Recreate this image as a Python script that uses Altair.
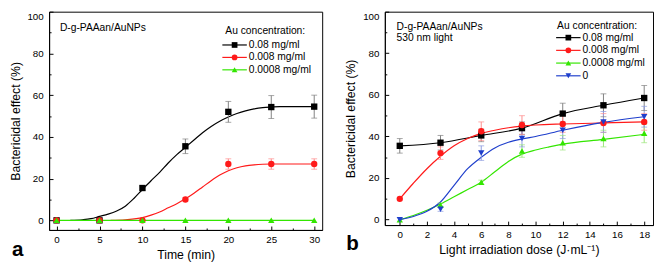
import altair as alt
import pandas as pd

FONT = "Liberation Sans"

SERIES = ["0.08 mg/ml", "0.008 mg/ml", "0.0008 mg/ml", "0"]
COLORS = ["#000000", "#ff1a1a", "#33e600", "#1f3fcc"]
ERR_COLORS = ["#808080", "#ff8c8c", "#9be67a", "#8c9be0"]
SHAPES = ["square", "circle", "triangle-up", "triangle-down"]

# ---------------- Panel a : time course ----------------
a_time = [0, 5, 10, 15, 20, 25, 30]
a_val = [
    [0, 0, 15.5, 35.5, 52.0, 54.3, 54.5],
    [0, 0, 0, 10.0, 27.0, 27.0, 27.0],
    [0, 0, 0, 0, 0, 0, 0],
]
a_err = [
    [0, 0, 1.0, 3.5, 5.0, 5.5, 5.5],
    [0, 0, 0, 0.8, 2.5, 2.5, 2.5],
    [0, 0, 0, 0, 0, 0, 0],
]
a_fit_x = [
    [1.6, 3, 4, 5, 6, 7, 8, 9, 10, 11, 12, 13, 14, 15, 16, 17, 18, 19, 20, 21, 22, 23, 24, 25, 26, 28, 30],
    [6.3, 8, 10, 11, 12, 13, 14, 15, 16, 17, 18, 19, 20, 21, 22, 23, 24, 25, 30],
    [0, 30],
]
a_fit_y = [
    [0, 0.3, 0.8, 1.9, 3.0, 4.5, 6.8, 10.5, 14.8, 19.0, 23.0, 27.5, 31.5, 35.0, 38.5, 42.0, 45.0, 47.5,
     49.5, 51.2, 52.5, 53.4, 54.0, 54.3, 54.5, 54.5, 54.5],
    [0, 0.3, 1.3, 2.5, 4.0, 6.0, 8.0, 10.3, 13.0, 16.0, 19.0, 21.7, 23.8, 25.2, 26.1, 26.6, 26.9, 27.0, 27.0],
    [0, 0],
]
a_ticks = [0, 5, 10, 15, 20, 25, 30]
a_minor = [2.5, 7.5, 12.5, 17.5, 22.5, 27.5]

# ---------------- Panel b : light dose ----------------
b_dose = [0, 3, 6, 9, 12, 15, 18]
b_val = [
    [35.5, 37.0, 40.5, 44.0, 51.0, 55.0, 58.5],
    [10.0, 32.0, 42.5, 45.5, 46.0, 46.5, 47.0],
    [0, 7.0, 18.0, 33.0, 37.0, 39.0, 41.5],
    [0, 5.0, 32.0, 39.0, 43.0, 47.0, 49.5],
]
b_err = [
    [3.5, 3.5, 3.0, 3.0, 5.0, 5.5, 6.0],
    [0, 3.0, 4.5, 4.5, 4.0, 4.5, 4.0],
    [0.5, 1.0, 1.0, 3.0, 3.5, 4.0, 4.5],
    [0, 1.0, 3.5, 4.0, 4.0, 5.0, 5.0],
]
b_fit_x = [
    [0, 3, 6, 9, 12, 15, 18],
    [0, 1, 2, 3, 4, 5, 6, 7, 8, 9, 10, 12, 15, 18],
    [0, 1, 2, 3, 4, 5, 6, 7, 8, 9, 10, 11, 12, 15, 18],
    [0, 1, 2, 3, 4, 5, 6, 7, 8, 9, 10, 12, 15, 18],
]
b_fit_y = [
    [35.5, 37.0, 40.5, 44.0, 51.0, 55.0, 58.5],
    [10.0, 17.5, 24.5, 30.5, 35.5, 39.0, 41.5, 43.0, 44.2, 45.0, 45.5, 46.0, 46.5, 47.0],
    [0, 2.0, 4.5, 7.5, 11.0, 14.5, 18.0, 23.0, 28.0, 31.5, 33.5, 35.0, 36.3, 38.6, 41.0],
    [0, 1.5, 4.0, 8.5, 16.5, 24.5, 30.0, 34.5, 37.2, 38.8, 40.0, 43.0, 46.8, 49.5],
]
b_ticks = [0, 2, 4, 6, 8, 10, 12, 14, 16, 18]
b_minor = [1, 3, 5, 7, 9, 11, 13, 15, 17]

Y_TITLE = "Bactericidal effect (%)"
Y_TICKS = [0, 20, 40, 60, 80, 100]
Y_MINOR = [10, 30, 50, 70, 90]
DUMMY = pd.DataFrame({"d": [0]})


def minor_axis(values, orient):
    return alt.Axis(values=values, labels=False, domain=False, title=None, grid=False,
                    orient=orient, tickSize=alt.ExprRef(expr="-2"))


def panel(xs, vals, errs, fit_x, fit_y, nser, xdom, ydom, w, h, xticks, xminor, xtitle,
          annot, legend, tag, tag_pos):
    pts, fits = [], []
    for s in range(nser):
        for x, v, e in zip(xs, vals[s], errs[s]):
            pts.append(dict(x=x, y=v, lo=v - e, hi=v + e, err=e, col=COLORS[s],
                            ecol=ERR_COLORS[s], shape=SHAPES[s]))
        for x, v in zip(fit_x[s], fit_y[s]):
            fits.append(dict(x=x, y=v, s=s, col=COLORS[s]))
    pdf = pd.DataFrame(pts)
    edf = pdf[pdf["err"] > 0.6]
    fdf = pd.DataFrame(fits)

    xsc = alt.Scale(domain=xdom, nice=False, zero=False)
    ysc = alt.Scale(domain=ydom, nice=False, zero=False)
    xax = alt.Axis(values=xticks, title=xtitle, grid=False, labelFlush=False, labelOverlap=False,
                   tickSize=alt.ExprRef(expr="-4"), labelPadding=9, titlePadding=4)
    yax = alt.Axis(values=Y_TICKS, title=Y_TITLE, grid=False, labelFlush=True, labelOverlap=False,
                   tickSize=alt.ExprRef(expr="-4"), labelPadding=10, titlePadding=5)

    Xa = alt.X("x:Q", scale=xsc, axis=xax)
    Xn = alt.X("x:Q", scale=xsc, axis=None)

    def Yn(f):
        return alt.Y(f, scale=ysc, axis=None)

    lines = alt.Chart(fdf).mark_line(interpolate="monotone", strokeWidth=1.2).encode(
        x=Xa, y=alt.Y("y:Q", scale=ysc, axis=yax), detail="s:N",
        color=alt.Color("col:N", scale=None))
    err = alt.Chart(edf).mark_rule(strokeWidth=1).encode(
        x=alt.X("x:Q", scale=xsc, axis=minor_axis(xminor, "bottom")),
        y=alt.Y("lo:Q", scale=ysc, axis=minor_axis(Y_MINOR, "left")), y2="hi:Q",
        color=alt.Color("ecol:N", scale=None))
    cap_lo = alt.Chart(edf).mark_tick(orient="horizontal", size=6, thickness=1).encode(
        x=Xn, y=Yn("lo:Q"), color=alt.Color("ecol:N", scale=None))
    cap_hi = alt.Chart(edf).mark_tick(orient="horizontal", size=6, thickness=1).encode(
        x=Xn, y=Yn("hi:Q"), color=alt.Color("ecol:N", scale=None))
    points = alt.Chart(pdf).mark_point(filled=True, size=42, opacity=1).encode(
        x=Xn, y=Yn("y:Q"),
        color=alt.Color("col:N", scale=None), shape=alt.Shape("shape:N", scale=None))

    layers = [lines, err, cap_lo, cap_hi, points]

    # annotation text
    ax, ay0, ady = annot["x"], annot["y"], annot["dy"]
    for i, t in enumerate(annot["lines"]):
        layers.append(alt.Chart(DUMMY).mark_text(
            text=t, align="left", baseline="middle", font=FONT, fontSize=10.5, color="black"
        ).encode(x=alt.value(ax), y=alt.value(ay0 + i * ady)))

    # legend (drawn as marks)
    lg = legend
    layers.append(alt.Chart(DUMMY).mark_text(
        text="Au concentration:", align="left", baseline="middle", font=FONT, fontSize=10.5,
        color="black").encode(x=alt.value(lg["tx"]), y=alt.value(lg["ty"])))
    for i in range(nser):
        yi = lg["y0"] + i * lg["dy"]
        layers.append(alt.Chart(DUMMY).mark_rule(color=COLORS[i], strokeWidth=1.2).encode(
            x=alt.value(lg["x1"]), x2=alt.value(lg["x2"]), y=alt.value(yi)))
        layers.append(alt.Chart(DUMMY).mark_point(
            filled=True, shape=SHAPES[i], size=34, color=COLORS[i], opacity=1
        ).encode(x=alt.value((lg["x1"] + lg["x2"]) / 2), y=alt.value(yi)))
        layers.append(alt.Chart(DUMMY).mark_text(
            text=SERIES[i], align="left", baseline="middle", font=FONT, fontSize=10.5,
            color="black").encode(x=alt.value(lg["lx"]), y=alt.value(yi)))

    layers.append(alt.Chart(DUMMY).mark_text(
        text=tag, align="center", baseline="middle", font=FONT, fontSize=21,
        fontWeight="bold", color="black").encode(x=alt.value(tag_pos[0]), y=alt.value(tag_pos[1])))

    return alt.layer(*layers).resolve_axis(x="independent", y="independent").properties(
        width=w, height=h)


WA, HA = 279, 223
WB, HB = 274, 218

pa = panel(a_time, a_val, a_err, a_fit_x, a_fit_y, 3, [-0.87, 30.93], [-4.6, 100], WA, HA,
           a_ticks, a_minor, "Time (min)",
           annot=dict(x=11, y=17, dy=11, lines=["D-g-PAAan/AuNPs"]),
           legend=dict(tx=180, ty=20, y0=34, dy=12.7, x1=177, x2=202, lx=204),
           tag="a", tag_pos=(-32, HA + 21))

pb = panel(b_dose, b_val, b_err, b_fit_x, b_fit_y, 4, [-1.1, 18.65], [-2.6, 100], WB, HB,
           b_ticks, b_minor, "Light irradiation dose (J·mL⁻¹)",
           annot=dict(x=12, y=16, dy=11, lines=["D-g-PAAan/AuNPs", "530 nm light"]),
           legend=dict(tx=176, ty=15, y0=26.5, dy=13, x1=175, x2=200, lx=202),
           tag="b", tag_pos=(-33, HB + 19))

chart = alt.hconcat(pa, pb, spacing=21, padding={"left": 0, "top": 0, "right": 0, "bottom": 0}
).configure_view(stroke="black", strokeWidth=1
).configure_axis(
    labelFont=FONT, labelFontSize=10, labelColor="black",
    titleFont=FONT, titleFontSize=12.5, titleFontWeight="normal", titleColor="black",
    domainColor="black", domainWidth=1, tickColor="black", tickWidth=1,
)

chart.save("out.html", embed_options={"renderer": "svg", "actions": False})
